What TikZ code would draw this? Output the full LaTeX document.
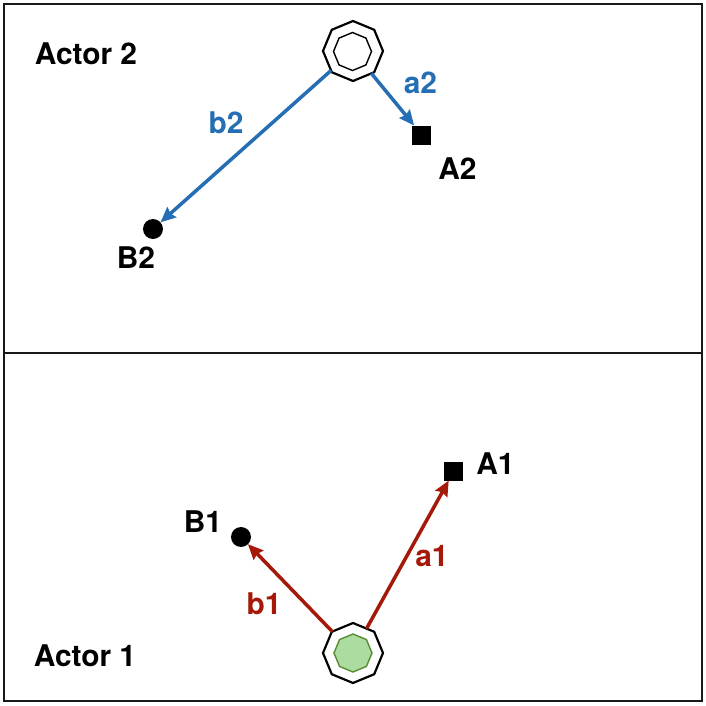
\documentclass[tikz,border=0pt]{standalone}
\usepackage{fontspec}
\setsansfont{TeX Gyre Heros}
\usepackage{tikz}
\usetikzlibrary{arrows.meta,calc,positioning,shapes}
\tikzset{
  actor/.style = {regular polygon, regular polygon sides=8, shape border rotate=22.5, draw=black, inner sep=0pt, outer sep=0pt},
  actor_o/.style = {actor, line width=0.62pt, fill=white, minimum size=0.6cm},
  actor_i/.style = {actor, line width=0.4pt, minimum size=0.38cm},
  target_a/.style = {rectangle, fill=black, inner sep=0pt, outer sep=0pt, minimum size=0.19cm},
  target_b/.style = {circle, fill=black, inner sep=0pt, outer sep=0pt, minimum size=0.2cm},
  lbl/.style = {inner sep=0pt, font=\sffamily\bfseries\fontsize{8.5}{10}\selectfont}
}
\definecolor{my_blue}{RGB}{38, 110, 180}
\definecolor{my_red}{RGB}{165, 25, 10}
\definecolor{my_green}{RGB}{172, 220, 160}
\definecolor{my_olive}{RGB}{90, 140, 50}

\begin{document}
\begin{tikzpicture}[->,>={Stealth[length=4.3pt,width=3.8pt,inset=0.5pt]},
        blue_arr/.style={my_blue, line width=1pt},
        red_arr/.style={my_red, line width=1pt}]
    \useasboundingbox (0,0) rectangle (7.06,7.06);
    % two panels
    \draw[-, line width=0.7pt, color=black!90] (0.04,0.05) rectangle (7.02,3.53);
    \draw[-, line width=0.7pt, color=black!90] (0.04,3.53) rectangle (7.02,7.02);

    \node [actor_o] (o2) at (3.53,6.55) {};
    \node [actor_i] (i2) at (3.525,6.545) {};
    \node [target_a] (a2) at (4.22,5.71) {};
    \node [target_b] (b2) at (1.53,4.77) {};

    \node [actor_o] (o1) at (3.53,0.53) {};
    \node [actor_i, fill=my_green, draw=my_olive] (i1) at (3.53,0.53) {};
    \node [target_a] (a1) at (4.54,2.35) {};
    \node [target_b] (b1) at (2.41,1.69) {};

    \draw[blue_arr] (o2) -- (b2);
    \draw[blue_arr] (o2) -- (a2);
    \draw[red_arr] (o1) -- (b1);
    \draw[red_arr] (o1) -- (a1);

    \node [lbl] (actor2) at (0.86,6.52) {Actor 2};
    \node [lbl] (actor1) at (0.85,0.50) {Actor 1};
    \node [lbl] (lA2) at (4.575,5.37) {A2};
    \node [lbl] (lB2) at (1.36,4.48) {B2};
    \node [lbl] (lA1) at (4.955,2.42) {A1};
    \node [lbl] (lB1) at (2.03,1.84) {B1};
    \node [lbl, my_blue] (la2) at (4.205,6.23) {a2};
    \node [lbl, my_blue] (lb2) at (2.26,5.83) {b2};
    \node [lbl, my_red] (la1) at (4.32,1.50) {a1};
    \node [lbl, my_red] (lb1) at (2.64,1.02) {b1};
\end{tikzpicture}
\end{document}
